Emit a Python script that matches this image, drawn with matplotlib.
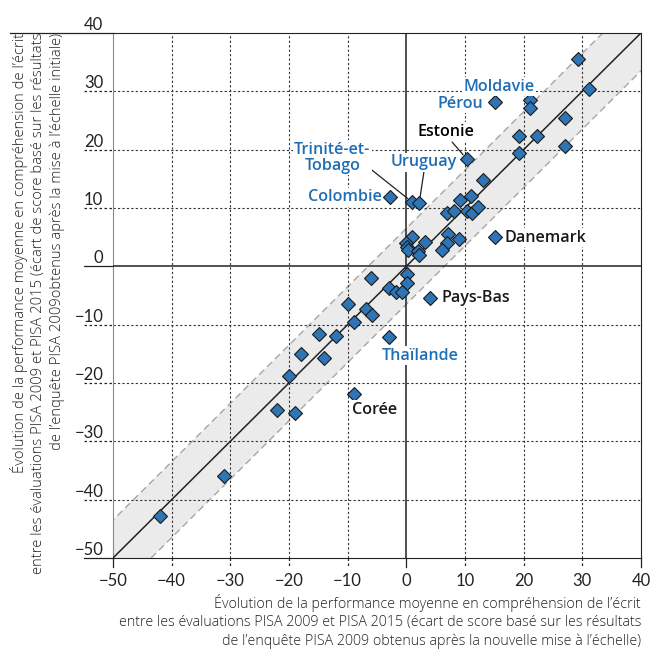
import matplotlib
matplotlib.use("Agg")
import matplotlib.pyplot as plt
import numpy as np

plt.rcParams['font.family'] = ['Lato', 'DejaVu Sans']

# change in reading, rescaled (x) vs original scaling (y)
x_rescaled = [29.2, 31.2, 15.2, 21.1, 21.1, 27.1, 19.2, 22.2, 27.1, 19.2,
              10.3, 13.1, -2.8, 1.0, 2.2, 11.1, 9.1, 7.0, 8.2, 10.3,
              11.2, 12.3, 1.0, -0.05, 0.05, 0.2, 2.05, 2.2, 3.1, 7.1,
              7.0, 6.0, 9.0, 15.2, 0.05, 0.05, -6.0, -2.9, -1.8, -0.8,
              4.1, -9.9, -6.9, -5.9, -9.0, -2.9, -14.9, -12.0, -18.0, -14.0,
              -20.0, -9.0, -22.0, -19.0, -31.1, -42.0]
y_original = [35.5, 30.4, 28.1, 28.5, 27.2, 25.4, 22.3, 22.3, 20.6, 19.5,
              18.4, 14.8, 11.8, 11.0, 10.9, 12.1, 11.3, 9.1, 9.5, 9.4,
              9.1, 10.1, 5.1, 3.95, 3.3, 2.8, 2.7, 1.9, 4.2, 5.5,
              3.95, 2.8, 4.7, 5.0, -1.25, -2.9, -1.95, -3.8, -4.45, -4.35,
              -5.4, -6.5, -7.4, -8.3, -9.5, -12.2, -11.6, -12.0, -15.1, -15.8,
              -18.8, -21.9, -24.7, -25.1, -35.9, -42.8]

ticks = [-50, -40, -30, -20, -10, 0, 10, 20, 30, 40]
band = 6.5

# labelled countries: name, index of point, colour, text pos, ha, leader line
blue = '#1f6eb4'
labels = [
    ("Moldavie", None, blue, (15.8, 30.8), 'center', False),
    ("Pérou", 2, blue, (13.1, 27.9), 'right', False),
    ("Estonie", 10, 'black', (6.7, 23.1), 'center', True),
    ("Uruguay", 14, blue, (2.9, 17.8), 'center', True),
    ("Trinité-et-\nTobago", 13, blue, (-12.6, 18.6), 'center', True),
    ("Colombie", 12, blue, (-4.2, 11.8), 'right', False),
    ("Danemark", 33, '#1a1a1a', (16.8, 4.9), 'left', False),
    ("Pays-Bas", 40, '#1a1a1a', (6.0, -5.5), 'left', False),
    ("Thaïlande", 45, blue, (2.4, -15.3), 'center', False),
    ("Corée", 51, '#1a1a1a', (-9.3, -24.6), 'left', False),
]
leader_start = {"Estonie": (7.8, 21.3), "Uruguay": (3.0, 16.2),
                "Trinité-et-\nTobago": (-6.5, 17.0)}

fig = plt.figure(figsize=(6.54, 6.51), dpi=100)
ax = fig.add_axes([0.1728, 0.1429, 0.8073, 0.8065])
ax.set_xlim(-50, 40)
ax.set_ylim(-50, 40)

# shaded band around the diagonal
xx = np.array([-60, 50])
ax.fill_between(xx, xx - band, xx + band, color='#ebebeb', zorder=1, lw=0)
ax.plot(xx, xx + band, color='#a6a6a6', ls=(0, (5, 3)), lw=1, zorder=2)
ax.plot(xx, xx - band, color='#a6a6a6', ls=(0, (5, 3)), lw=1, zorder=2)

# grid
for v in ticks[1:-1]:
    if v == 0:
        continue
    ax.axhline(v, color='#333333', ls=(0, (2, 2)), lw=0.8, zorder=2.5)
    ax.axvline(v, color='#333333', ls=(0, (2, 2)), lw=0.8, zorder=2.5)
ax.axhline(0, color='#222222', lw=1.1, zorder=3)
ax.axvline(0, color='#222222', lw=1.1, zorder=3)

ax.plot(xx, xx, color='#222222', lw=1.1, zorder=3)

ax.plot(x_rescaled, y_original, 'D', ms=7.2, mfc='#2f75b6', mec='#1a1a1a',
        mew=0.8, ls='none', zorder=5)

for name, idx, col, pos, ha, lead in labels:
    ax.text(pos[0], pos[1], name, color=col, fontsize=11.6, fontweight='semibold',
            family=['Open Sans', 'DejaVu Sans'], linespacing=1.0,
            ha=ha, va='center', multialignment='center', zorder=6,
            bbox=dict(facecolor='white', edgecolor='none', pad=1))
    if lead:
        sx, sy = leader_start[name]
        ax.annotate('', xy=(x_rescaled[idx], y_original[idx]), xytext=(sx, sy),
                    arrowprops=dict(arrowstyle='-', color='#222222', lw=0.9,
                                    shrinkA=0, shrinkB=4), zorder=4)

# spines
for s in ['top', 'right', 'bottom']:
    ax.spines[s].set_color('#222222')
ax.spines['left'].set_color('#888888')

ax.set_xticks(ticks)
ax.set_yticks(ticks)
ax.tick_params(length=0)
ax.tick_params(axis='y', pad=7, labelsize=12, labelcolor='#222222')
ax.tick_params(axis='x', pad=11, labelsize=12, labelcolor='#222222')
for lab in ax.get_yticklabels():
    lab.set_verticalalignment('bottom')

# extended tick lines under the y labels and below the x axis
ytr = ax.get_yaxis_transform()
xtr = ax.get_xaxis_transform()
for v in ticks:
    solid = v in (-50, 0, 40)
    ls = '-' if solid else (0, (2, 2))
    x0 = -0.195 if v == 40 else -0.055
    ax.plot([x0, 0], [v, v], transform=ytr, color='#222222', lw=0.9,
            ls=ls, clip_on=False)
    ax.plot([v, v], [0, -0.017], transform=xtr, color='#222222', lw=0.9,
            ls=ls, clip_on=False)

xlabel = ("Évolution de la performance moyenne en compréhension de l’écrit\n"
          "entre les évaluations PISA 2009 et PISA 2015 (écart de score basé sur les résultats\n"
          "de l’enquête PISA 2009 obtenus après la nouvelle mise à l’échelle)")
ylabel = ("Évolution de la performance moyenne en compréhension de l’écrit\n"
          "entre les évaluations PISA 2009 et PISA 2015 (écart de score basé sur les résultats\n"
          "de l’enquête PISA 2009obtenus après la mise à l’échelle initiale)")
fig.text(641 / 654, 1 - 594 / 651, xlabel, ha='right', va='top',
         multialignment='right', fontsize=10.3, color='#222222', linespacing=1.3,
         family=['Open Sans', 'DejaVu Sans'], fontweight='light')
fig.text(10 / 654, 1 - 33 / 651, ylabel, ha='left', va='top', rotation=90,
         multialignment='right', fontsize=10.6, color='#222222', linespacing=1.3,
         family=['Open Sans', 'DejaVu Sans'], fontweight='light')

fig.savefig("out.png", dpi=100)
